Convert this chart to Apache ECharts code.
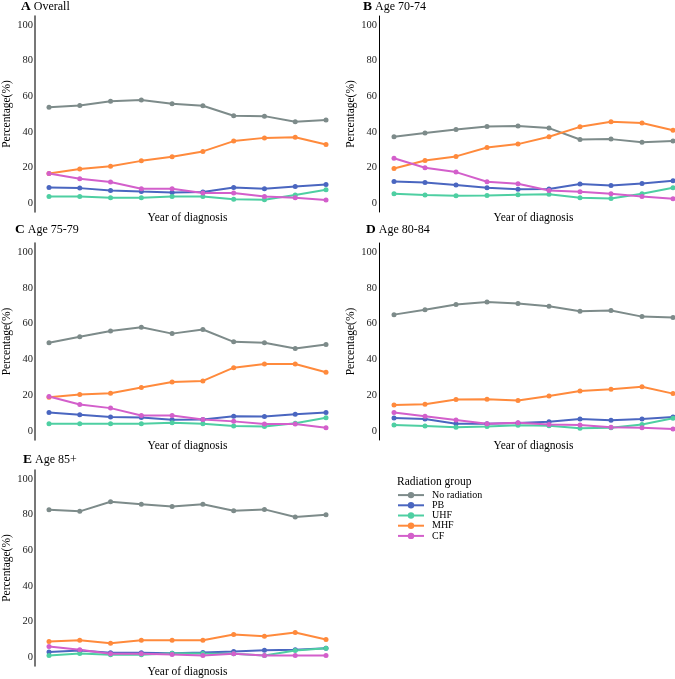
<!DOCTYPE html>
<html>
<head>
<meta charset="utf-8">
<script src="https://cdn.jsdelivr.net/npm/echarts@6/dist/echarts.min.js"></script>
<style>
  html, body { margin: 0; padding: 0; background: #fff; }
  #chart { width: 675px; height: 679px; }
</style>
</head>
<body>
<div id="chart"></div>
<script>
// x positions (years are not labelled in the figure)
const years = ['1', '2', '3', '4', '5', '6', '7', '8', '9', '10'];
const groups = ['No radiation', 'PB', 'UHF', 'MHF', 'CF'];
const yTicks = [0, 20, 40, 60, 80, 100];

// A  Overall
const overallNoRad = [53.8, 54.8, 57.2, 57.9, 55.7, 54.6, 49.0, 48.8, 45.6, 46.7];
const overallPB    = [8.8, 8.4, 7.1, 6.5, 6.0, 6.2, 8.8, 8.0, 9.3, 10.5];
const overallUHF   = [3.7, 3.7, 3.0, 3.0, 3.7, 3.7, 2.1, 1.9, 4.5, 7.5];
const overallMHF   = [16.6, 19.1, 20.7, 23.7, 26.0, 29.0, 34.8, 36.6, 37.0, 32.9];
const overallCF    = [16.6, 13.6, 11.8, 8.0, 8.0, 5.6, 5.6, 3.7, 3.0, 1.7];

// B  Age 70-74
const age7074NoRad = [37.2, 39.3, 41.3, 43.0, 43.2, 42.1, 35.7, 35.9, 34.2, 34.8];
const age7074PB    = [12.1, 11.6, 10.1, 8.6, 7.7, 7.9, 10.7, 9.9, 11.0, 12.5];
const age7074UHF   = [5.2, 4.5, 4.1, 4.3, 4.7, 5.0, 3.0, 2.6, 5.2, 8.6];
const age7074MHF   = [19.4, 23.9, 26.2, 31.2, 33.1, 37.2, 42.8, 45.6, 44.9, 40.9];
const age7074CF    = [25.2, 19.8, 17.4, 12.0, 10.8, 7.1, 6.4, 5.2, 3.7, 2.4];

// C  Age 75-79
const age7579NoRad = [49.3, 52.6, 55.9, 58.0, 54.4, 56.7, 49.8, 49.3, 46.1, 48.3];
const age7579PB    = [10.4, 9.1, 7.8, 7.6, 6.3, 6.5, 8.3, 8.1, 9.4, 10.4];
const age7579UHF   = [4.1, 4.1, 4.1, 4.1, 4.6, 4.1, 2.8, 2.6, 4.3, 7.4];
const age7579MHF   = [18.9, 20.4, 21.1, 24.3, 27.4, 28.0, 35.4, 37.4, 37.4, 32.8];
const age7579CF    = [19.3, 14.8, 12.8, 8.7, 8.7, 6.5, 5.4, 3.9, 3.9, 1.9];

// D  Age 80-84
const age8084NoRad = [65.0, 67.7, 70.7, 72.0, 71.2, 69.7, 66.9, 67.3, 63.9, 63.4];
const age8084PB    = [7.3, 6.7, 4.1, 4.1, 4.5, 5.2, 6.7, 6.0, 6.7, 7.9];
const age8084UHF   = [3.4, 2.8, 2.1, 2.6, 3.2, 3.0, 1.5, 1.9, 3.6, 7.1];
const age8084MHF   = [14.6, 15.0, 17.6, 17.8, 17.0, 19.6, 22.4, 23.4, 24.7, 20.9];
const age8084CF    = [10.3, 8.2, 6.2, 4.1, 4.7, 3.7, 3.4, 2.1, 1.9, 1.1];

// E  Age 85+
const age85NoRad = [82.7, 81.8, 87.2, 85.8, 84.5, 85.8, 82.1, 82.9, 78.6, 79.9];
const age85PB    = [2.8, 3.7, 2.4, 2.4, 2.2, 2.6, 3.2, 3.9, 4.1, 5.0];
const age85UHF   = [0.9, 2.0, 1.3, 1.3, 2.2, 2.0, 1.9, 0.9, 3.7, 5.0];
const age85MHF   = [8.8, 9.5, 7.8, 9.5, 9.5, 9.5, 12.7, 11.7, 13.8, 9.9];
const age85CF    = [6.0, 4.1, 1.9, 1.9, 1.5, 0.9, 1.9, 0.9, 0.9, 0.9];

const colors = ['#7d8b8a', '#4a66c0', '#4ecfa2', '#ff8a3c', '#d35fcb'];
const FONT = "'Liberation Serif', 'Times New Roman', serif";

const panels = [
  { tag: 'A', label: 'Overall',   series: [overallNoRad, overallPB, overallUHF, overallMHF, overallCF],
    left: 47,  top: 16,  height: 196, axisColor: '#555', axisWidth: 1.6, tx: 21,  ty: 0 },
  { tag: 'B', label: 'Age 70-74', series: [age7074NoRad, age7074PB, age7074UHF, age7074MHF, age7074CF],
    left: 394, top: 16,  height: 196, axisColor: '#000', axisWidth: 1,   tx: 363, ty: 0 },
  { tag: 'C', label: 'Age 75-79', series: [age7579NoRad, age7579PB, age7579UHF, age7579MHF, age7579CF],
    left: 47,  top: 243, height: 197, axisColor: '#555', axisWidth: 1.6, tx: 15,  ty: 223 },
  { tag: 'D', label: 'Age 80-84', series: [age8084NoRad, age8084PB, age8084UHF, age8084MHF, age8084CF],
    left: 394, top: 243, height: 197, axisColor: '#000', axisWidth: 1,   tx: 366, ty: 223 },
  { tag: 'E', label: 'Age 85+',   series: [age85NoRad, age85PB, age85UHF, age85MHF, age85CF],
    left: 47,  top: 470, height: 197, axisColor: '#555', axisWidth: 1.6, tx: 23,  ty: 453 }
];

const chart = echarts.init(document.getElementById('chart'));

const titles = panels.map(p => ({
  text: '{b|' + p.tag + '} ' + p.label,
  left: p.tx, top: p.ty, padding: 0,
  textStyle: {
    fontFamily: FONT, fontSize: 12, fontWeight: 'normal', color: '#000',
    rich: { b: { fontFamily: FONT, fontSize: 13.5, fontWeight: 'bold', color: '#000' } }
  }
}));
titles.push({
  text: 'Radiation group', left: 397, top: 476, padding: 0,
  textStyle: { fontFamily: FONT, fontSize: 11.5, fontWeight: 'normal', color: '#000' }
});

const grids = panels.map(p => ({ left: p.left, top: p.top, width: 279, height: p.height }));

const xAxes = panels.map((p, i) => ({
  type: 'category', gridIndex: i, data: years, boundaryGap: false,
  axisLine: { show: false }, axisTick: { show: false }, axisLabel: { show: false },
  splitLine: { show: false },
  name: 'Year of diagnosis', nameLocation: 'middle', nameGap: 0,
  nameTextStyle: { fontFamily: FONT, fontSize: 11.5, color: '#000', verticalAlign: 'top' }
}));

const yAxes = panels.map((p, i) => ({
  type: 'value', gridIndex: i, min: -5, max: 105, interval: 5,
  offset: p.left === 47 ? 14 : 15,
  axisLine: { show: true, lineStyle: { color: p.axisColor, width: p.axisWidth } },
  axisTick: { show: false }, splitLine: { show: false },
  axisLabel: {
    margin: 2, fontFamily: FONT, fontSize: 10.5, color: '#222',
    formatter: v => (yTicks.indexOf(v) >= 0 ? String(v) : '')
  },
  name: 'Percentage(%)', nameLocation: 'middle', nameGap: 22, nameRotate: 90,
  nameTextStyle: { fontFamily: FONT, fontSize: 11.5, color: '#000' }
}));

const series = [];
panels.forEach((p, i) => {
  p.series.forEach((vals, g) => {
    series.push({
      type: 'line', name: groups[g], xAxisIndex: i, yAxisIndex: i,
      data: vals, symbol: 'circle', symbolSize: 5, showSymbol: true,
      color: colors[g], lineStyle: { width: 2, color: colors[g] },
      itemStyle: { color: colors[g] }, animation: false, silent: true
    });
  });
});

chart.setOption({
  backgroundColor: '#fff',
  animation: false,
  title: titles,
  legend: {
    data: groups, orient: 'vertical', left: 397, top: 490, padding: 0,
    itemWidth: 26, itemHeight: 8, itemGap: 0,
    textStyle: { fontFamily: FONT, fontSize: 10, color: '#000', lineHeight: 10.2, padding: [0, 0, 0, 3] }
  },
  grid: grids,
  xAxis: xAxes,
  yAxis: yAxes,
  series: series
});
</script>
</body>
</html>
